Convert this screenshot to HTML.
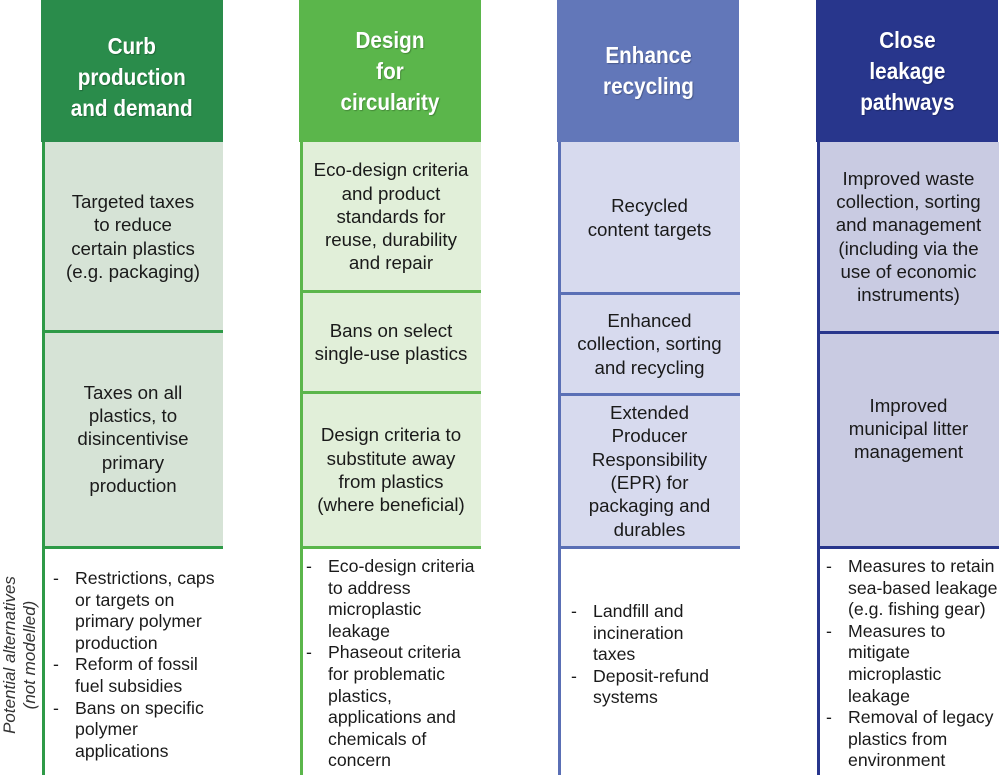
<!DOCTYPE html>
<html><head><meta charset="utf-8"><style>
body{margin:0;width:1000px;height:775px;background:#fff;position:relative;overflow:hidden;font-family:"Liberation Sans",Arial,sans-serif;color:#1a1a1a}
.h{position:absolute;top:0;height:142px;display:flex;align-items:center;justify-content:center;text-align:center;color:#fff;font-family:"Liberation Sans",sans-serif;font-weight:bold;font-size:23px;line-height:31px;text-shadow:1px 1px 1px rgba(0,0,0,.25)}
.h span{display:inline-block;transform:scaleX(0.9);white-space:nowrap}
.c{position:absolute;display:flex;align-items:center;justify-content:center;text-align:center;font-size:18.7px;line-height:23.3px;box-sizing:border-box;padding:0 2px;white-space:nowrap}
.vl{position:absolute;width:3px;top:142px;height:633px}
.hl{position:absolute;height:3px}
.b{position:absolute;font-size:17.7px;line-height:21.6px;white-space:nowrap}
.b div{position:relative;padding-left:22px}
.b div span{position:absolute;left:0}
</style></head><body>
<!-- column 1 -->
<div class="h" style="left:41px;width:182px;background:#2a8c4b;padding-top:12px;box-sizing:border-box"><span>Curb<br>production<br>and demand</span></div>
<div class="c" style="left:43px;top:142px;width:180px;height:189px;background:#d6e3d6">Targeted taxes<br>to reduce<br>certain plastics<br>(e.g. packaging)</div>
<div class="c" style="left:43px;top:331px;width:180px;height:216px;background:#d6e3d6">Taxes on all<br>plastics, to<br>disincentivise<br>primary<br>production</div>
<div class="hl" style="left:43px;top:330px;width:180px;background:#2e9a47"></div>
<div class="hl" style="left:43px;top:546px;width:180px;background:#2e9a47"></div>
<div class="vl" style="left:42px;background:#2e9a47"></div>
<div class="b" style="left:53px;top:568px;width:170px"><div><span>-</span>Restrictions, caps<br>or targets on<br>primary polymer<br>production</div><div><span>-</span>Reform of fossil<br>fuel subsidies</div><div><span>-</span>Bans on specific<br>polymer<br>applications</div></div>

<!-- column 2 -->
<div class="h" style="left:299px;width:182px;background:#5bb64b"><span>Design<br>for<br>circularity</span></div>
<div class="c" style="left:301px;top:142px;width:180px;height:149px;background:#e1efd9">Eco-design criteria<br>and product<br>standards for<br>reuse, durability<br>and repair</div>
<div class="c" style="left:301px;top:292px;width:180px;height:100px;background:#e1efd9">Bans on select<br>single-use plastics</div>
<div class="c" style="left:301px;top:393px;width:180px;height:154px;background:#e1efd9">Design criteria to<br>substitute away<br>from plastics<br>(where beneficial)</div>
<div class="hl" style="left:301px;top:290px;width:180px;background:#5bb64b"></div>
<div class="hl" style="left:301px;top:391px;width:180px;background:#5bb64b"></div>
<div class="hl" style="left:301px;top:546px;width:180px;background:#5bb64b"></div>
<div class="vl" style="left:300px;background:#5bb64b"></div>
<div class="b" style="left:306px;top:556px;width:175px"><div><span>-</span>Eco-design criteria<br>to address<br>microplastic<br>leakage</div><div><span>-</span>Phaseout criteria<br>for problematic<br>plastics,<br>applications and<br>chemicals of<br>concern</div></div>

<!-- column 3 -->
<div class="h" style="left:557px;width:182px;background:#6277b9"><span>Enhance<br>recycling</span></div>
<div class="c" style="left:559px;top:142px;width:181px;height:151px;background:#d7daee">Recycled<br>content targets</div>
<div class="c" style="left:559px;top:294px;width:181px;height:100px;background:#d7daee">Enhanced<br>collection, sorting<br>and recycling</div>
<div class="c" style="left:559px;top:395px;width:181px;height:152px;background:#d7daee">Extended<br>Producer<br>Responsibility<br>(EPR) for<br>packaging and<br>durables</div>
<div class="hl" style="left:559px;top:292px;width:181px;background:#5a6fb5"></div>
<div class="hl" style="left:559px;top:393px;width:181px;background:#5a6fb5"></div>
<div class="hl" style="left:559px;top:546px;width:181px;background:#5a6fb5"></div>
<div class="vl" style="left:558px;background:#5a6fb5"></div>
<div class="b" style="left:571px;top:601px;width:165px"><div><span>-</span>Landfill and<br>incineration<br>taxes</div><div><span>-</span>Deposit-refund<br>systems</div></div>

<!-- column 4 -->
<div class="h" style="left:816px;width:182px;background:#28368c"><span>Close<br>leakage<br>pathways</span></div>
<div class="c" style="left:818px;top:142px;width:181px;height:189px;background:#c9cbe2">Improved waste<br>collection, sorting<br>and management<br>(including via the<br>use of economic<br>instruments)</div>
<div class="c" style="left:818px;top:332px;width:181px;height:215px;background:#c9cbe2;padding-bottom:22px">Improved<br>municipal litter<br>management</div>
<div class="hl" style="left:818px;top:331px;width:181px;background:#28368c"></div>
<div class="hl" style="left:818px;top:546px;width:181px;background:#28368c"></div>
<div class="vl" style="left:817px;background:#28368c"></div>
<div class="b" style="left:826px;top:556px;width:174px"><div><span>-</span>Measures to retain<br>sea-based leakage<br>(e.g. fishing gear)</div><div><span>-</span>Measures to<br>mitigate<br>microplastic<br>leakage</div><div><span>-</span>Removal of legacy<br>plastics from<br>environment</div></div>

<!-- side label -->
<div style="position:absolute;left:20px;top:655px;width:200px;transform:translate(-50%,-50%) rotate(-90deg);text-align:center;font-style:italic;font-size:17px;line-height:20px;color:#333">Potential alternatives<br>(not modelled)</div>
</body></html>
